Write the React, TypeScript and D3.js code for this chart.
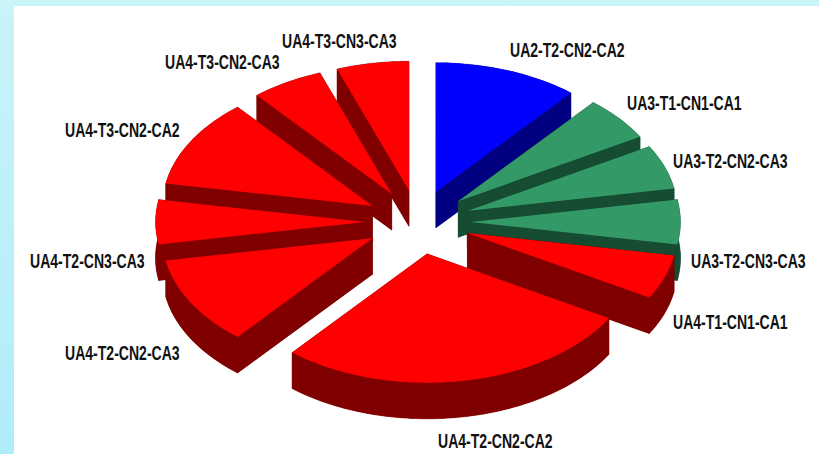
import React from "react";
import * as d3 from "d3";

const categories = [
  "UA2-T2-CN2-CA2",
  "UA3-T1-CN1-CA1",
  "UA3-T2-CN2-CA3",
  "UA3-T2-CN3-CA3",
  "UA4-T1-CN1-CA1",
  "UA4-T2-CN2-CA2",
  "UA4-T2-CN2-CA3",
  "UA4-T2-CN3-CA3",
  "UA4-T3-CN2-CA2",
  "UA4-T3-CN2-CA3",
  "UA4-T3-CN3-CA3",
];
const values = [2, 1, 1, 1, 1, 5, 2, 1, 2, 1, 1];
const groups = ["UA2", "UA3", "UA3", "UA3", "UA4", "UA4", "UA4", "UA4", "UA4", "UA4", "UA4"];

const topColors: Record<string, string> = { UA2: "#0000ff", UA3: "#339966", UA4: "#ff0000" };
const wallColors: Record<string, string> = { UA2: "#000080", UA3: "#164c32", UA4: "#800000" };

// left x and baseline y of each label, in category order
const labelLeft = [510, 627, 673, 691, 673, 438, 65, 30, 65, 165, 282];
const labelBase = [57, 110, 168, 268, 329, 448, 360, 268, 137, 69, 48];

const W = 819, H = 454;
const cx = 418, cy = 222, rx = 210, ry = 129, depth = 36, explode = 0.25;
const labelSqueeze = 0.72;

const x = d3.scaleLinear().domain([-1, 1]).range([cx - rx, cx + rx]);
const y = d3.scaleLinear().domain([-1, 1]).range([cy - ry, cy + ry]);
const line = d3.line<[number, number]>().curve(d3.curveLinearClosed);

const arcs = d3.pie<number>().sort(null).startAngle(0).endAngle(2 * Math.PI)(values);

const slices = arcs
  .map((a, i) => {
    const mid = (a.startAngle + a.endAngle) / 2;
    const ax = explode * Math.sin(mid);
    const ay = -explode * Math.cos(mid);
    const n = Math.max(4, Math.round((a.endAngle - a.startAngle) * 40));
    const rim: [number, number][] = d3.range(n + 1).map((k) => {
      const t = a.startAngle + ((a.endAngle - a.startAngle) * k) / n;
      return [x(ax + Math.sin(t)), y(ay - Math.cos(t))];
    });
    const apex: [number, number] = [x(ax), y(ay)];
    return { i, mid, rim, apex, group: groups[i] };
  })
  .sort((p, q) => Math.cos(q.mid) - Math.cos(p.mid));

const down = (p: [number, number]): [number, number] => [p[0], p[1] + depth];

export default function App() {
  return (
    <svg
      width={W}
      height={H}
      viewBox={`0 0 ${W} ${H}`}
      style={{ position: "absolute", left: 0, top: 0, display: "block" }}
    >
      <defs>
        <linearGradient id="page" x1="0" y1="0" x2="0" y2="1">
          <stop offset="0" stopColor="#c9f4f8" />
          <stop offset="1" stopColor="#b0ecfa" />
        </linearGradient>
      </defs>
      <rect width={W} height={H} fill="url(#page)" />
      <rect x={14} y={6} width={W - 14} height={H - 6} fill="#ffffff" />
      {slices.map((s) => {
        const top = [s.apex, ...s.rim];
        const bottom = top.map(down);
        const first = s.rim[0];
        const last = s.rim[s.rim.length - 1];
        const band = [...s.rim, ...s.rim.map(down).reverse()];
        const side1 = [s.apex, first, down(first), down(s.apex)];
        const side2 = [s.apex, last, down(last), down(s.apex)];
        const wall = wallColors[s.group];
        return (
          <g key={s.i}>
            {[bottom, side1, side2, band].map((pts, k) => (
              <path key={k} d={line(pts as [number, number][]) ?? ""} fill={wall} stroke={wall} strokeWidth={0.3} />
            ))}
            <path d={line(top as [number, number][]) ?? ""} fill={topColors[s.group]} />
          </g>
        );
      })}
      {categories.map((c, i) => (
        <text
          key={c + i}
          transform={`translate(${labelLeft[i]},${labelBase[i]}) scale(${labelSqueeze},1)`}
          fontFamily="'Liberation Sans', sans-serif"
          fontWeight="bold"
          fontSize={19.5}
          fill="#111111"
        >
          {c}
        </text>
      ))}
    </svg>
  );
}
